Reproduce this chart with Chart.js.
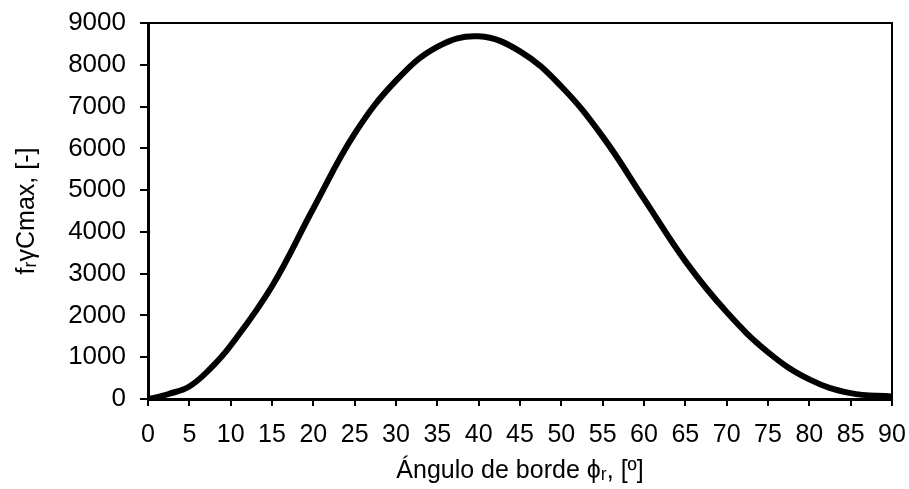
<!DOCTYPE html>
<html>
<head>
<meta charset="utf-8">
<script src="https://cdn.jsdelivr.net/npm/chart.js@4/dist/chart.umd.min.js"></script>
<style>
  html, body { margin: 0; padding: 0; background: #fff; }
  #wrap { width: 909px; height: 489px; }
</style>
</head>
<body>
<div id="wrap"><canvas id="chart"></canvas></div>
<script>
// edge angle (degrees) and the f_rγ C_max values
const angles = [0, 1, 2.5, 5, 7.5, 10, 15, 20, 25, 30, 35, 40, 45, 50, 55, 60, 65, 70, 75, 80, 85, 90];
const values = [0, 40, 120, 300, 720, 1280, 2700, 4560, 6350, 7620, 8430, 8680, 8320, 7480, 6280, 4790, 3300, 2080, 1120, 470, 140, 60];

const xTitle = 'Ángulo de borde ϕᵣ, [º]';
const yTitle = 'fᵣγCmax, [-]';

const font = 'Liberation Sans, Arial, sans-serif';

// frame around the plot area
const frame = {
    id: 'frame',
    afterDraw(chart) {
        const { ctx, chartArea: a } = chart;
        ctx.save();
        ctx.strokeStyle = '#000';
        ctx.lineWidth = 2;
        ctx.strokeRect(a.left, a.top, a.right - a.left, a.bottom - a.top);
        ctx.restore();
    }
};

const ctx = document.getElementById('chart').getContext('2d');
new Chart(ctx, {
    type: 'line',
    data: {
        datasets: [{
            data: angles.map((a, i) => ({ x: a, y: values[i] })),
            borderColor: '#000',
            borderWidth: 6,
            pointRadius: 0,
            fill: false,
            tension: 0.4
        }]
    },
    options: {
        responsive: true,
        maintainAspectRatio: false,
        animation: false,
        layout: { padding: { top: 23, right: 17, bottom: 1, left: 0 } },
        plugins: {
            legend: { display: false },
            tooltip: { enabled: false }
        },
        scales: {
            x: {
                type: 'linear',
                min: 0,
                max: 90,
                afterFit: s => {
                    s.height = 89;
                    s.paddingLeft = 0;
                    s.paddingRight = 0;
                },
                border: { color: '#000', width: 3 },
                grid: { drawOnChartArea: false, color: '#000', lineWidth: 2, tickLength: 7 },
                ticks: {
                    stepSize: 5,
                    color: '#000',
                    padding: 14,
                    maxRotation: 0,
                    font: { family: font, size: 25 }
                },
                title: {
                    display: true,
                    text: xTitle,
                    color: '#000',
                    padding: { top: 0, bottom: 2 },
                    font: { family: font, size: 25 }
                }
            },
            y: {
                min: 0,
                max: 9000,
                afterFit: s => {
                    s.width = 148;
                    s.paddingTop = 0;
                    s.paddingBottom = 0;
                },
                border: { color: '#000', width: 3 },
                grid: { drawOnChartArea: false, color: '#000', lineWidth: 2, tickLength: 8 },
                ticks: {
                    stepSize: 1000,
                    color: '#000',
                    padding: 14,
                    font: { family: font, size: 26 },
                    callback: v => String(v)
                },
                title: {
                    display: true,
                    text: yTitle,
                    color: '#000',
                    padding: { top: 12, bottom: 0 },
                    font: { family: font, size: 25 }
                }
            }
        }
    },
    plugins: [frame]
});
</script>
</body>
</html>
